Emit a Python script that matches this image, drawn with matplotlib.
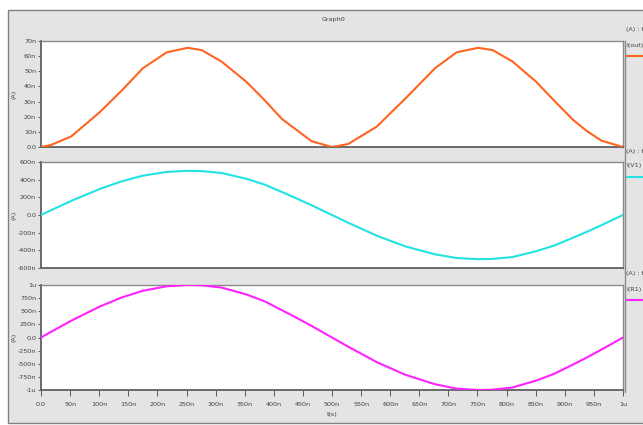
import matplotlib
matplotlib.use("Agg")
import matplotlib.pyplot as plt
from matplotlib.patches import Rectangle
from matplotlib.lines import Line2D

# simulation time points (ns) and branch currents (nA)
t_ns = [0, 17, 52, 101, 138, 175, 216, 252, 276, 310, 353, 384, 414, 440, 465, 500,
        528, 577, 626, 677, 714, 751, 776, 810, 851, 882, 914, 938, 963, 1000]
i_out = [0, 1.3, 7, 23, 37, 52, 62.5, 65.5, 64, 56.5, 43, 31, 18.5, 11, 3.8, 0,
         2, 13.5, 32, 52, 62.5, 65.5, 64, 56.5, 43, 30.5, 18, 10.5, 4.2, 0]
i_v1 = [0, 53, 160, 295, 380, 445, 488, 500, 497, 476, 410, 345, 260, 185, 110, 0,
        -88, -235, -355, -445, -487, -500, -497, -476, -410, -345, -258, -190, -115, 0]
i_r1 = [0, 106, 320, 590, 760, 890, 976, 1000, 994, 952, 820, 690, 520, 370, 220, 0,
        -176, -470, -710, -890, -974, -1000, -994, -952, -820, -690, -516, -380, -230, 0]

names = ["I(out)", "I(V1)", "I(R1)"]
colors = ["#ff6420", "#22e2e2", "#ff22ff"]

top_ticks = [0, 10, 20, 30, 40, 50, 60, 70]
top_labels = ["0.0", "10n", "20n", "30n", "40n", "50n", "60n", "70n"]
mid_ticks = [-600, -400, -200, 0, 200, 400, 600]
mid_labels = ["-600n", "-400n", "-200n", "0.0", "200n", "400n", "600n"]
bot_ticks = [-1000, -750, -500, -250, 0, 250, 500, 750, 1000]
bot_labels = ["-1u", "-750n", "-500n", "-250n", "0.0", "250n", "500n", "750n", "1u"]
x_ticks = list(range(0, 1001, 50))
x_labels = ["0.0"] + [f"{v}n" for v in x_ticks[1:-1]] + ["1u"]

W, H = 643, 425
fig = plt.figure(figsize=(W / 100, H / 100), dpi=100)
fig.patch.set_facecolor("white")

def fx(px):
    return px / W

def fy(py):
    return 1 - py / H

# grey panel behind the graphs
fig.patches.append(Rectangle((fx(8), fy(423)), fx(700) - fx(8), fy(10) - fy(423),
                             transform=fig.transFigure, facecolor="#e4e4e4",
                             edgecolor="#808080", lw=1.0, zorder=-5))

txt = "#404040"
fs = 4.6
left, right = 41, 623
rows = [(41, 147), (162, 268), (285, 390)]
series = [i_out, i_v1, i_r1]
yt = [(top_ticks, top_labels, (0, 70)),
      (mid_ticks, mid_labels, (-600, 600)),
      (bot_ticks, bot_labels, (-1000, 1000))]

for k, (y0, y1) in enumerate(rows):
    ax = fig.add_axes([fx(left), fy(y1), fx(right) - fx(left), fy(y0) - fy(y1)])
    ax.set_zorder(1)
    ax.plot(t_ns, series[k], color=colors[k], lw=1.5, zorder=3)
    ax.set_xlim(0, 1000)
    ticks, labels, lim = yt[k]
    ax.set_ylim(*lim)
    ax.set_yticks(ticks)
    ax.set_yticklabels(labels)
    ax.tick_params(axis="y", labelsize=fs, colors=txt, length=2.5, width=0.6, pad=1)
    for s in ax.spines.values():
        s.set_color("#8a8a8a")
        s.set_linewidth(1.0)
    ax.spines["left"].set_color("#606060")
    ax.spines["bottom"].set_color("#606060")
    ax.spines["left"].set_linewidth(1.3)
    ax.spines["bottom"].set_linewidth(1.3)
    fig.text(fx(14), fy((y0 + y1) / 2), "(A)", fontsize=fs, color=txt,
             rotation=90, ha="center", va="center")
    if k == 2:
        ax.set_xticks(x_ticks)
        ax.set_xticklabels(x_labels)
        ax.tick_params(axis="x", labelsize=fs, colors=txt, length=4, width=0.6,
                       pad=5, direction="out")
        ax.set_xlabel("t(s)", fontsize=fs, color=txt, labelpad=3)
    else:
        ax.set_xticks([])

    # trace label column on the right
    fig.text(fx(626), fy(y0 - 11), "(A) : t(s)", fontsize=fs, color=txt, va="center")
    fig.text(fx(626), fy(y0 + 4), names[k], fontsize=fs, color=txt, va="center")
    fig.lines.append(Line2D([fx(627), fx(643)], [fy(y0 + 15), fy(y0 + 15)],
                            transform=fig.transFigure, color=colors[k], lw=1.5))

# divider between the graphs and the trace labels
fig.lines.append(Line2D([fx(624.5), fx(624.5)], [fy(41), fy(392)],
                        transform=fig.transFigure, color="#8a8a8a", lw=1.0))

fig.text(fx(333), fy(20), "Graph0", fontsize=fs, color=txt, ha="center", va="center")

fig.savefig("out.png", dpi=100)
